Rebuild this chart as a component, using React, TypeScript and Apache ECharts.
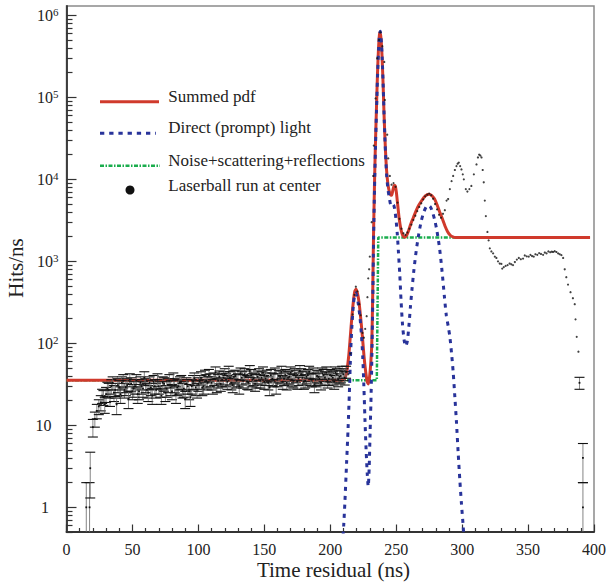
import React, { useEffect, useRef } from "react";
import * as echarts from "echarts";

// ---------- axis ranges ----------
const X_MIN = 0;
const X_MAX = 400;
const Y_MIN_VALUE = 0.5;
const Y_MAX_VALUE = 1.3e6;

// ---------- tick labels ----------
const yDecadeExponents = [0, 1, 2, 3, 4, 5, 6];
const yLabelBase = ["1", "10", "10", "10", "10", "10", "10"];
const yLabelExp = ["", "", "2", "3", "4", "5", "6"];

// ---------- legend ----------
const legendNames = [
  "Summed pdf",
  "Direct (prompt) light",
  "Noise+scattering+reflections",
  "Laserball run at center",
];

// ---------- curves: [time residual (ns), hits/ns] ----------
const summedPdf: [number, number][] = [
  [0, 35.5], [209, 35.5], [211, 37], [212.5, 45], [214, 70], [215.2, 120], [216.3, 200],
  [217.5, 320], [218.6, 430], [219.6, 455], [220.6, 410], [221.8, 320], [223, 210],
  [224.3, 125], [225.6, 70], [226.8, 46], [228, 34], [228.9, 32], [229.9, 40], [230.8, 60],
  [231.5, 100], [232.2, 400], [232.8, 2000], [233.5, 8000], [234.2, 25000], [235.0, 70000],
  [235.8, 190000], [236.6, 400000], [237.3, 580000], [237.8, 620000], [238.5, 520000],
  [239.3, 310000], [240.1, 140000], [240.9, 55000], [241.8, 24000], [242.7, 13000],
  [243.7, 8800], [244.7, 7200], [245.7, 6500], [246.5, 6400], [247.5, 7400], [248.5, 8400],
  [249.3, 8300], [250.2, 6800], [251.2, 4800], [252.3, 3300], [253.5, 2500], [254.8, 2100],
  [256.3, 1960], [257.8, 2050], [259.5, 2400], [261.2, 2900], [263, 3400], [265, 4100],
  [267, 4800], [269, 5400], [271, 6000], [273, 6450], [275, 6600], [277, 6350], [279, 5800],
  [281, 4900], [283, 4000], [285, 3300], [287, 2700], [289, 2300], [291, 2080], [293, 1990],
  [295, 1955], [397, 1950],
];

const directLight: [number, number][] = [
  [209.3, 0.35], [210.2, 0.6], [211.1, 1.15], [212.4, 3.5], [213.5, 9], [214.5, 25],
  [215.5, 80], [216.5, 170], [217.5, 290], [218.5, 390], [219.3, 410], [220.2, 380],
  [221.3, 300], [222.5, 210], [223.6, 130], [224.6, 70], [225.5, 30], [226.3, 12],
  [227.2, 5], [228.1, 2.5], [228.8, 1.8], [229.5, 3], [230.2, 8], [230.8, 18], [231.5, 60],
  [232.2, 300], [232.9, 2000], [233.6, 8000], [234.3, 25000], [235.1, 70000],
  [235.9, 190000], [236.7, 400000], [237.4, 600000], [237.9, 640000], [238.6, 520000],
  [239.4, 300000], [240.2, 130000], [241, 50000], [241.9, 21000], [242.8, 11000],
  [243.8, 7500], [244.9, 5800], [245.8, 4900], [246.8, 4700], [247.8, 4900], [248.8, 4400],
  [249.8, 3300], [250.8, 2200], [251.7, 1300], [252.7, 700], [253.7, 330], [254.8, 170],
  [256, 110], [257.2, 92], [258.4, 105], [259.6, 160], [260.8, 280], [262, 460],
  [263.5, 800], [265.2, 1350], [267, 2100], [269, 3100], [271, 4000], [273, 4700],
  [274.5, 4800], [276, 4600], [277.5, 4000], [279.2, 3200], [281, 2300], [283, 1400],
  [284.8, 750], [286.5, 380], [288, 220], [289.5, 160], [290.7, 120], [292, 75],
  [293.2, 45], [294.5, 22], [295.7, 11], [297, 4.6], [298.3, 2.1], [299.5, 1.1],
  [300.8, 0.59], [301.7, 0.35],
];

const noiseScatter: [number, number][] = [
  [0, 35.5], [235.3, 35.5], [236.4, 1950], [397, 1950],
];

// ---------- laserball data with error bars: [time, hits/ns, error] ----------
const laserErrorBars: [number, number, number][] = [
  [15, 1, 1], [17.5, 1, 1], [18, 3, 1.7], [20, 9.5, 2.3], [21.5, 12, 2.5], [23, 15, 3],
  [24.5, 17, 3.5], [26, 19, 4], [27, 23, 4.5], [28, 22, 4.5], [29, 18, 4],
  [30, 24, 5], [31, 28, 5.5], [32, 27, 5.5], [33, 22, 5], [34, 30, 6], [35, 33, 6],
  [36, 25, 5.5], [37, 27, 5.5], [38, 18, 4.5], [39, 31, 6], [40, 29, 6], [41, 24, 5.5],
  [42, 33, 6], [43, 35, 6.5], [44, 27, 5.5], [45, 29, 6], [46, 31, 6], [47, 21, 5],
  [48, 36, 6.5], [49, 32, 6], [50, 26, 5.5], [51, 28, 6], [52, 30, 6], [53, 35, 6.5],
  [54, 24, 5.5], [55, 26, 5.5], [56, 33, 6], [57, 30, 6], [58, 28, 6], [59, 38, 7],
  [60, 31, 6], [61, 27, 5.5], [62, 25, 5.5], [63, 33, 6], [64, 29, 6], [65, 23, 5],
  [66, 34, 6.5], [67, 30, 6], [68, 27, 5.5], [69, 36, 6.5], [70, 30, 6], [71, 28, 6],
  [72, 23, 5], [73, 33, 6], [74, 32, 6], [75, 25, 5.5], [76, 28, 6], [77, 31, 6],
  [78, 35, 6.5], [79, 29, 6], [80, 26, 5.5], [81, 37, 6.5], [82, 31, 6], [83, 24, 5.5],
  [84, 29, 6], [85, 30, 6], [86, 33, 6], [87, 34, 6.5], [88, 27, 5.5], [89, 28, 6],
  [90, 21, 5], [91, 32, 6], [92, 30, 6], [93, 26, 5.5], [94, 22, 5], [95, 30, 6],
  [96, 34, 6.5], [97, 37, 6.5], [98, 29, 6], [99, 27, 5.5], [100, 32, 6], [101, 34, 6.5],
  [102, 38, 7], [103, 29, 6], [104, 30, 6], [105, 40, 7], [106, 35, 6.5], [107, 33, 6],
  [108, 41, 7], [109, 36, 6.5], [110, 33, 6], [111, 30, 6], [112, 37, 6.5], [113, 44, 7.5],
  [114, 31, 6], [115, 35, 6.5], [116, 39, 7], [117, 32, 6], [118, 36, 6.5], [119, 38, 7],
  [120, 42, 7], [121, 36, 6.5], [122, 34, 6.5], [123, 45, 7.5], [124, 38, 7], [125, 33, 6],
  [126, 31, 6], [127, 39, 7], [128, 40, 7], [129, 35, 6.5], [130, 36, 6.5], [131, 30, 6],
  [132, 43, 7], [133, 38, 7], [134, 35, 6.5], [135, 42, 7], [136, 39, 7], [137, 34, 6.5],
  [138, 33, 6], [139, 46, 7.5], [140, 41, 7], [141, 36, 6.5], [142, 37, 6.5], [143, 32, 6],
  [144, 35, 6.5], [145, 39, 7], [146, 42, 7], [147, 35, 6.5], [148, 38, 7], [149, 44, 7.5],
  [150, 34, 6.5], [151, 37, 6.5], [152, 40, 7], [153, 33, 6], [154, 29, 6], [155, 41, 7],
  [156, 37, 6.5], [157, 36, 6.5], [158, 43, 7], [159, 30, 6], [160, 36, 6.5], [161, 40, 7],
  [162, 39, 7], [163, 45, 7.5], [164, 34, 6.5], [165, 37, 6.5], [166, 41, 7], [167, 33, 6],
  [168, 38, 7], [169, 39, 7], [170, 44, 7.5], [171, 36, 6.5], [172, 35, 6.5], [173, 42, 7],
  [174, 40, 7], [175, 34, 6.5], [176, 37, 6.5], [177, 46, 7.5], [178, 42, 7], [179, 38, 7],
  [180, 34, 6.5], [181, 35, 6.5], [182, 39, 7], [183, 41, 7], [184, 45, 7.5], [185, 37, 6.5],
  [186, 36, 6.5], [187, 43, 7], [188, 31, 6], [189, 36, 6.5], [190, 40, 7], [191, 39, 7],
  [192, 37, 6.5], [193, 33, 6], [194, 43, 7], [195, 41, 7], [196, 38, 7], [197, 44, 7.5],
  [198, 35, 6.5], [199, 37, 6.5], [200, 41, 7], [201, 40, 7], [202, 38, 7], [203, 34, 6.5],
  [204, 44, 7.5], [205, 42, 7], [206, 36, 6.5], [207, 39, 7], [208, 40, 7], [209, 45, 7.5],
  [210, 42, 7], [211, 38, 7], [212, 45, 7.5],
  [389, 33, 5.5], [391.6, 4, 2], [391.6, 1, 1],
];

// ---------- laserball data, high-statistics bins (error bars too small to see) ----------
const laserPoints: [number, number][] = [
  [213.7, 42], [215.3, 75], [217, 225], [218.3, 390], [219.4, 490], [220.6, 430],
  [222, 300], [223, 220], [224.5, 134], [225.5, 117], [226.5, 150], [227.6, 214],
  [228.2, 365], [228.8, 620], [229.5, 800], [230, 1140], [231.4, 3000], [232.6, 11000],
  [233, 25800], [234.4, 97000], [235.6, 300000], [237, 500000], [238, 620000],
  [239.5, 420000], [241, 270000], [241.4, 93000], [243.2, 35000], [244, 18000],
  [245.2, 11000], [246.5, 8600], [248, 9000], [249.5, 8100], [251, 5200], [252.5, 3300],
  [254, 2500], [255.5, 2200], [257, 2100], [258.5, 2250], [260, 2500], [261.5, 2800],
  [263, 3200], [264.5, 3600], [266, 4100], [267.5, 4600], [269, 5100], [270.5, 5700],
  [272, 6200], [273.5, 6500], [275, 6700], [276.5, 6400], [278, 5800], [279.5, 5000],
  [281, 4300], [282.5, 3700], [284, 3400], [285.5, 3800], [286.9, 4200], [288.2, 5500],
  [289.4, 5750], [290.7, 7600], [292, 9500], [293.2, 11000], [294.5, 13000], [295.7, 14500],
  [296.6, 15500], [297.5, 16000], [298.5, 14500], [299.5, 13200], [300.5, 11500],
  [301.3, 10000], [302.8, 7600], [304, 7100], [305.5, 7600], [307, 8300], [308.9, 11500],
  [310.9, 15200], [312, 18500], [312.9, 20000], [313.8, 19500], [314.7, 18500],
  [315.6, 13000], [316.4, 9200], [317.2, 5500], [318, 3560], [319.2, 2280], [320.1, 1800],
  [321, 1440], [322.2, 1320], [323.5, 1250], [324.8, 1140], [326, 1100], [327.2, 1000],
  [328.5, 940], [329.8, 930], [330.4, 815], [331.6, 850], [333, 880], [334.5, 900],
  [336, 940], [337.3, 920], [338.6, 900], [340, 980], [341.5, 1050], [343, 1100],
  [344.5, 1060], [346.2, 1080], [347.5, 1180], [349, 1150], [350.5, 1140], [351.8, 1200],
  [353, 1160], [354.3, 1140], [355.6, 1220], [357, 1200], [358.4, 1260], [359.8, 1230],
  [361.4, 1200], [362.7, 1280], [364, 1250], [365.4, 1320], [366.8, 1290], [368, 1310],
  [369, 1300], [370.2, 1330], [371.5, 1300], [372.8, 1250], [374, 1220], [375.3, 1190],
  [376.6, 1100], [377.8, 800], [379, 640], [380.3, 520], [382.2, 420], [384, 355],
  [385.4, 300], [386, 196], [386.9, 120], [388.2, 79],
];

// ---------- helpers ----------
const lg = (v: number) => Math.log10(v);
const Y_LOG_MIN = lg(Y_MIN_VALUE);
const Y_LOG_MAX = lg(Y_MAX_VALUE);

const minorTickValues: number[] = [];
for (let k = -1; k <= 6; k++) {
  for (let m = 2; m <= 9; m++) {
    const l = lg(m) + k;
    if (l > Y_LOG_MIN && l < Y_LOG_MAX) minorTickValues.push(l);
  }
}

const SERIF = '"Liberation Serif", "Times New Roman", "DejaVu Serif", serif';
const RED = "#d03a2c";
const BLUE = "#28339a";
const GREEN = "#1aad4d";
const TEXT = "#222";

export default function App() {
  const ref = useRef<HTMLDivElement>(null);

  useEffect(() => {
    if (!ref.current) return;
    const chart = echarts.init(ref.current, undefined, { renderer: "svg" });

    const toLog = (arr: [number, number][]) => arr.map(([x, y]) => [x, lg(y)]);

    const errData = laserErrorBars.map(([x, v, e]) => {
      const lo = v - e;
      return [x, lg(v), lo > 0 ? lg(lo) : Y_LOG_MIN - 1, lg(v + e), lo > 0 ? 1 : 0];
    });

    const option: any = {
      animation: false,
      backgroundColor: "#ffffff",
      grid: {
        left: 66.5,
        right: 15,
        top: 6,
        bottom: 54,
        show: true,
        borderColor: "#8a8a8a",
        borderWidth: 1.5,
        backgroundColor: "transparent",
      },
      xAxis: {
        type: "value",
        min: X_MIN,
        max: X_MAX,
        interval: 50,
        axisLine: { show: true, onZero: false, lineStyle: { color: "#333", width: 1.8 } },
        axisTick: { show: true, inside: true, length: 7.5, lineStyle: { color: "#333", width: 1.2 } },
        minorTick: { show: true, splitNumber: 5, length: 4, lineStyle: { color: "#333", width: 1.2 } },
        axisLabel: { fontFamily: SERIF, fontSize: 16, color: TEXT, margin: 9 },
        splitLine: { show: false },
      },
      yAxis: [
        {
          type: "value",
          min: Y_LOG_MIN,
          max: Y_LOG_MAX,
          position: "left",
          axisLine: { show: true, onZero: false, lineStyle: { color: "#333", width: 1.8 } },
          axisTick: {
            show: true,
            inside: true,
            length: 10,
            customValues: yDecadeExponents,
            lineStyle: { color: "#333", width: 1.2 },
          },
          axisLabel: {
            customValues: yDecadeExponents,
            margin: 8,
            formatter: (val: number) => {
              const i = yDecadeExponents.indexOf(Math.round(val));
              if (i < 0) return "";
              if (yLabelExp[i]) return `{b|${yLabelBase[i]}}{s|${yLabelExp[i]}}`;
              return i === 0 ? `{b|${yLabelBase[i]}}{g1|}` : `{b|${yLabelBase[i]}}{g2|}`;
            },
            rich: {
              b: { fontFamily: SERIF, fontSize: 16, color: TEXT, lineHeight: 18 },
              s: { fontFamily: SERIF, fontSize: 11, color: TEXT, verticalAlign: "top", lineHeight: 11 },
              g1: { width: 9.5 },
              g2: { width: 7 },
            },
          },
          splitLine: { show: false },
        },
        {
          type: "value",
          min: Y_LOG_MIN,
          max: Y_LOG_MAX,
          position: "left",
          offset: 0,
          axisLine: { show: false, onZero: false },
          axisTick: {
            show: true,
            inside: true,
            length: 6,
            customValues: minorTickValues,
            lineStyle: { color: "#333", width: 1.2 },
          },
          axisLabel: { show: false },
          splitLine: { show: false },
        },
      ],
      series: [
        {
          name: legendNames[2],
          type: "line",
          data: toLog(noiseScatter),
          showSymbol: false,
          symbol: "none",
          lineStyle: { color: GREEN, width: 2.5, type: [4, 1.5, 1.5, 1.5] },
          z: 2,
        },
        {
          name: legendNames[0],
          type: "line",
          data: toLog(summedPdf),
          showSymbol: false,
          symbol: "none",
          smooth: 0.25,
          lineStyle: { color: RED, width: 3 },
          z: 3,
        },
        {
          name: legendNames[1],
          type: "line",
          data: toLog(directLight),
          showSymbol: false,
          symbol: "none",
          smooth: 0.25,
          lineStyle: { color: BLUE, width: 3, type: [4, 5] },
          z: 4,
        },
        {
          name: legendNames[3],
          type: "scatter",
          data: toLog(laserPoints),
          symbol: "circle",
          symbolSize: 2.2,
          itemStyle: { color: "#111" },
          z: 5,
        },
        {
          name: legendNames[3] + " errors",
          type: "custom",
          data: errData,
          clip: true,
          z: 6,
          encode: { x: 0, y: 1 },
          renderItem: (params: any, api: any) => {
            const x = api.value(0);
            const pc = api.coord([x, api.value(1)]);
            const pl = api.coord([x, api.value(2)]);
            const ph = api.coord([x, api.value(3)]);
            const hasLow = api.value(4) === 1;
            const half = 5;
            const children: any[] = [
              {
                type: "line",
                shape: { x1: pc[0], y1: pl[1], x2: pc[0], y2: ph[1] },
                style: { stroke: "#666", lineWidth: 0.8 },
              },
              {
                type: "line",
                shape: { x1: ph[0] - half, y1: ph[1], x2: ph[0] + half, y2: ph[1] },
                style: { stroke: "#111", lineWidth: 1.1 },
              },
              {
                type: "rect",
                shape: { x: pc[0] - 0.9, y: pc[1] - 0.9, width: 1.8, height: 1.8 },
                style: { fill: "#111" },
              },
            ];
            if (hasLow) {
              children.push({
                type: "line",
                shape: { x1: pl[0] - half, y1: pl[1], x2: pl[0] + half, y2: pl[1] },
                style: { stroke: "#111", lineWidth: 1.1 },
              });
            }
            return { type: "group", children };
          },
        },
      ],
      graphic: [
        {
          type: "text",
          x: 16,
          y: 268,
          rotation: Math.PI / 2,
          style: { text: "Hits/ns", font: `21px ${SERIF}`, fill: TEXT, align: "center", verticalAlign: "middle" },
        },
        {
          type: "text",
          x: 333.5,
          y: 570,
          style: { text: "Time residual (ns)", font: `21px ${SERIF}`, fill: TEXT, align: "center", verticalAlign: "middle" },
        },
        {
          type: "line",
          shape: { x1: 100, y1: 101.7, x2: 159, y2: 101.7 },
          style: { stroke: RED, lineWidth: 3 },
        },
        {
          type: "text",
          x: 168.3,
          y: 96,
          style: { text: legendNames[0], font: `17px ${SERIF}`, fill: TEXT, align: "left", verticalAlign: "middle" },
        },
        {
          type: "line",
          shape: { x1: 100, y1: 133.3, x2: 156, y2: 133.3 },
          style: { stroke: BLUE, lineWidth: 3, lineDash: [4.3, 4.9] },
        },
        {
          type: "text",
          x: 168.3,
          y: 127.6,
          style: { text: legendNames[1], font: `17px ${SERIF}`, fill: TEXT, align: "left", verticalAlign: "middle" },
        },
        {
          type: "line",
          shape: { x1: 100, y1: 165.7, x2: 160, y2: 165.7 },
          style: { stroke: GREEN, lineWidth: 2.5, lineDash: [4, 1.5, 1.5, 1.5] },
        },
        {
          type: "text",
          x: 168.3,
          y: 160,
          style: { text: legendNames[2], font: `17px ${SERIF}`, fill: TEXT, align: "left", verticalAlign: "middle" },
        },
        {
          type: "circle",
          shape: { cx: 130, cy: 190, r: 4.5 },
          style: { fill: "#111" },
        },
        {
          type: "text",
          x: 168.3,
          y: 185.3,
          style: { text: legendNames[3], font: `17px ${SERIF}`, fill: TEXT, align: "left", verticalAlign: "middle" },
        },
      ],
    };

    chart.setOption(option);
    return () => chart.dispose();
  }, []);

  return (
    <div
      ref={ref}
      style={{ position: "fixed", left: 0, top: 0, width: 609, height: 586, background: "#fff" }}
    />
  );
}
